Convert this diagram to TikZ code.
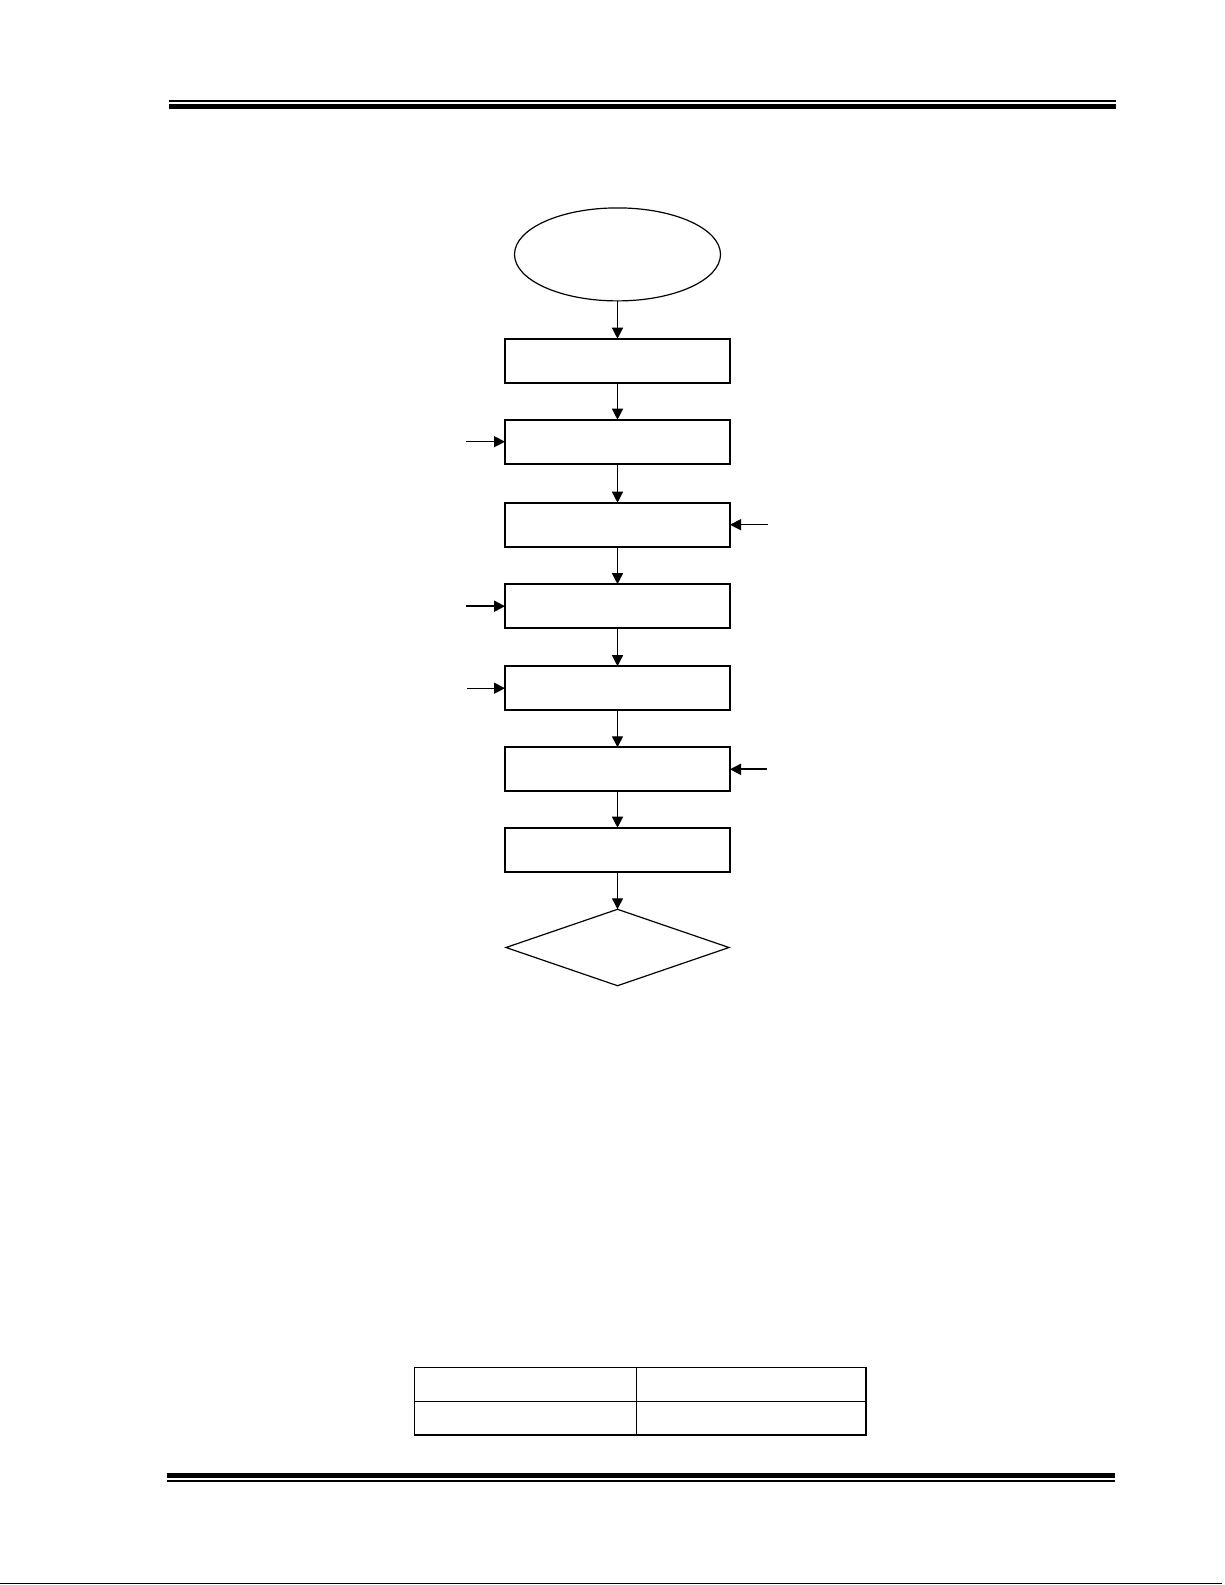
\documentclass[tikz,border=0pt]{standalone}
\usetikzlibrary{shapes.geometric,arrows.meta}
\begin{document}
\begin{tikzpicture}[x=0.5pt,y=-0.5pt,
  box/.style={draw,line width=0.85pt,rectangle,inner sep=0pt,outer sep=0pt,minimum width=112.5pt,minimum height=22pt},
  startnode/.style={draw,line width=0.6pt,ellipse,inner sep=0pt,outer sep=0pt,minimum width=103pt,minimum height=46.5pt},
  decision/.style={draw,line width=0.6pt,diamond,inner sep=0pt,outer sep=0pt,minimum width=111.5pt,minimum height=38.2pt},
  cell/.style={draw,line width=0.75pt,rectangle,inner sep=0pt,outer sep=0pt,minimum height=16.8pt},
  arr/.style={line width=0.65pt,-{Triangle[length=5.5pt,width=5.5pt]}},
  arrthick/.style={line width=1pt,-{Triangle[length=5.5pt,width=5.5pt]}},
  rulethin/.style={line width=1pt},
  rulethick/.style={line width=2.6pt}]
\useasboundingbox[fill=white] (0,0) rectangle (1225,1585);

% header rules
\draw[rulethin] (169,101) -- (1116,101);
\draw[rulethick] (169,106.5) -- (1116,106.5);

% flowchart
\node[startnode] (s) at (617.5,254.4) {};
\node[box] (b1) at (617.5,360.7) {};
\node[box] (b2) at (617.5,441.7) {};
\node[box] (b3) at (617.5,524.7) {};
\node[box] (b4) at (617.5,606.2) {};
\node[box] (b5) at (617.5,688.2) {};
\node[box] (b6) at (617.5,769.3) {};
\node[box] (b7) at (617.5,849.7) {};
\node[decision] (d) at (617.5,947.5) {};

\draw[arr] (s.south) -- (b1.north);
\draw[arr] (b1.south) -- (b2.north);
\draw[arr] (b2.south) -- (b3.north);
\draw[arr] (b3.south) -- (b4.north);
\draw[arr] (b4.south) -- (b5.north);
\draw[arr] (b5.south) -- (b6.north);
\draw[arr] (b6.south) -- (b7.north);
\draw[arr] (b7.south) -- (d.north);

% side inputs
\coordinate (i2) at (466,441.7);
\coordinate (i3) at (768,524.7);
\coordinate (i4) at (466,606.2);
\coordinate (i5) at (467,688.2);
\coordinate (i6) at (767,769.3);
\draw[arr] (i2) -- (b2.west);
\draw[arr] (i3) -- (b3.east);
\draw[arrthick] (i4) -- (b4.west);
\draw[arr] (i5) -- (b5.west);
\draw[arrthick] (i6) -- (b6.east);

% table
\node[cell,minimum width=111pt] (t11) at (525.3,1384.5) {};
\node[cell,minimum width=114.85pt] (t12) at (751.15,1384.5) {};
\node[cell,minimum width=111pt] (t21) at (525.3,1418.2) {};
\node[cell,minimum width=114.85pt] (t22) at (751.15,1418.2) {};

% footer rules
\draw[rulethick] (167,1475.5) -- (1115,1475.5);
\draw[rulethin] (167,1480.5) -- (1115,1480.5);

% page edge
\draw[line width=0.8pt] (0,1583.5) -- (1222,1583.5);
\end{tikzpicture}
\end{document}
